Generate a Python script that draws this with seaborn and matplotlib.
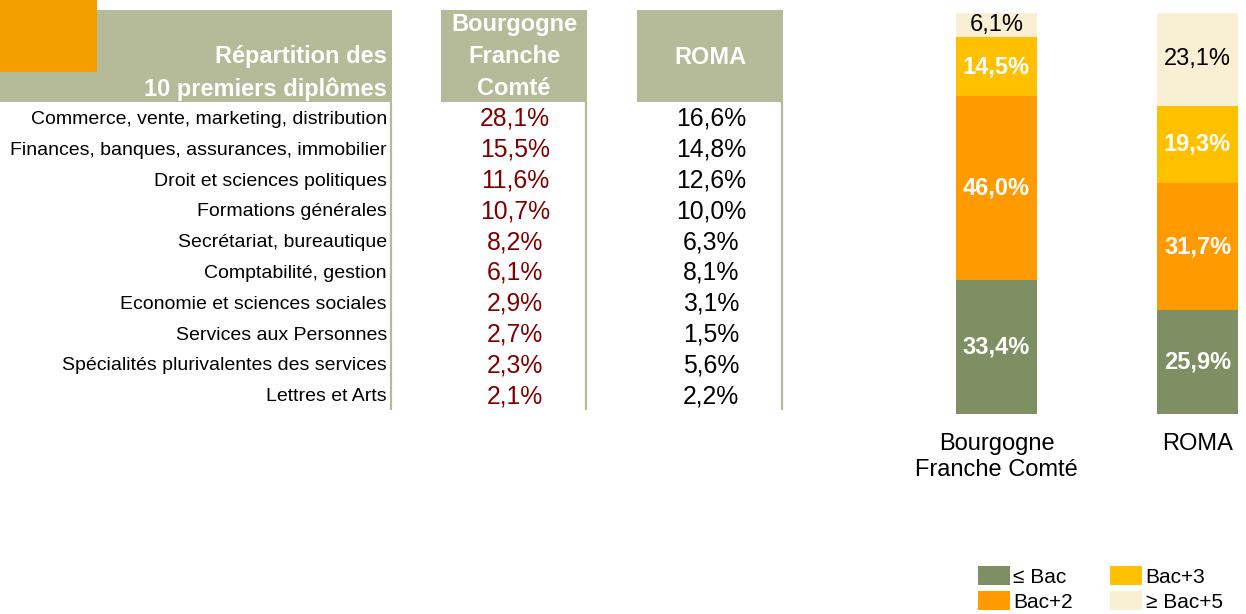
import numpy as np
import pandas as pd
import seaborn as sns
import matplotlib.pyplot as plt
from matplotlib.patches import Rectangle

# --- data -------------------------------------------------------------
diplomes = [
    "Commerce, vente, marketing, distribution",
    "Finances, banques, assurances, immobilier",
    "Droit et sciences politiques",
    "Formations générales",
    "Secrétariat, bureautique",
    "Comptabilité, gestion",
    "Economie et sciences sociales",
    "Services aux Personnes",
    "Spécialités plurivalentes des services",
    "Lettres et Arts",
]
bfc_pct = [28.1, 15.5, 11.6, 10.7, 8.2, 6.1, 2.9, 2.7, 2.3, 2.1]
roma_pct = [16.6, 14.8, 12.6, 10.0, 6.3, 8.1, 3.1, 1.5, 5.6, 2.2]

regions = ["Bourgogne\nFranche Comté", "ROMA"]
niveaux = ["≤ Bac", "Bac+2", "Bac+3", "≥ Bac+5"]
niveau_bfc = [33.4, 46.0, 14.5, 6.1]
niveau_roma = [25.9, 31.7, 19.3, 23.1]

# --- style ------------------------------------------------------------
couleurs = ["#7E8F63", "#FF9B00", "#FFC000", "#F9F0D3"]
HEAD = "#B5BA98"
ORANGE = "#F59E00"
ROUGE = "#800000"


def fr(v):
    return f"{v:.1f}%".replace(".", ",")


sns.set_theme(style="white")
plt.rcParams["font.family"] = ["Liberation Sans", "DejaVu Sans"]
plt.rcParams["text.color"] = "black"
plt.rcParams["xtick.color"] = "black"

W, H = 1246, 614
fig = plt.figure(figsize=(W / 100, H / 100), dpi=100)

# table drawn in pixel coordinates
tab = fig.add_axes([0, 0, 1, 1])
tab.set_xlim(0, W)
tab.set_ylim(H, 0)
tab.axis("off")


def txt(x, y, s, size, **kw):
    # y = visual centre of capitals
    tab.text(x, y + 0.358 * size * 100 / 72, s, fontsize=size, va="baseline", **kw)


tab.add_patch(Rectangle((0, 10), 392, 92, color=HEAD, lw=0))
tab.add_patch(Rectangle((0, 0), 97, 72, color=ORANGE, lw=0))
tab.add_patch(Rectangle((441, 10), 146, 92, color=HEAD, lw=0))
tab.add_patch(Rectangle((637, 10), 146, 92, color=HEAD, lw=0))
tab.vlines([390.5, 586, 782], 102, 410, color=HEAD, lw=1.6)

txt(387, 55, "Répartition des", 17, ha="right", color="white", fontweight="bold")
txt(387, 88, "10 premiers diplômes", 17, ha="right", color="white", fontweight="bold")
for y, s in zip([23, 55, 87], ["Bourgogne", "Franche", "Comté"]):
    txt(514, y, s, 17, ha="center", color="white", fontweight="bold")
txt(710, 56, "ROMA", 17, ha="center", color="white", fontweight="bold")

row_y = 117 + 30.8 * np.arange(len(diplomes))
for y, lab, a, b in zip(row_y, diplomes, bfc_pct, roma_pct):
    txt(387, y, lab, 14, ha="right", color="black")
    txt(515, y, fr(a), 17.8, ha="center", color=ROUGE)
    txt(711, y, fr(b), 17.8, ha="center", color="black")

# stacked bars
ax = fig.add_axes([946 / W, 200 / H, 300 / W, 401 / H])
df = pd.DataFrame({"region": regions})
for niv, a, b in zip(niveaux, niveau_bfc, niveau_roma):
    df[niv] = [a, b]

bottom = np.zeros(len(regions))
for k, niv in enumerate(niveaux):
    vals = df[niv].to_numpy()
    sns.barplot(data=df, x="region", y=niv, bottom=bottom.copy(), color=couleurs[k],
                saturation=1, width=0.403, errorbar=None, linewidth=0, label=niv, ax=ax)
    last = k == len(niveaux) - 1
    ax.bar_label(ax.containers[-1], labels=[fr(v) for v in vals], label_type="center",
                 color="black" if last else "white", fontsize=17,
                 fontweight="normal" if last else "bold")
    bottom += vals

ax.set_xlim(-0.2512, 1.2413)
ax.set_ylim(0, 100)
ax.set_yticks([])
ax.set_xlabel("")
ax.set_ylabel("")
ax.tick_params(axis="x", length=0, pad=14, labelsize=17, labelcolor="black")
sns.despine(ax=ax, left=True, bottom=True)

handles, labels = ax.get_legend_handles_labels()
ax.legend(handles, labels, ncol=2, loc="upper left", frameon=False,
          bbox_to_anchor=(978 / W, 1 - 566 / H), bbox_transform=fig.transFigure,
          fontsize=15, borderpad=0, borderaxespad=0, handlelength=1.54, handleheight=1.05,
          handletextpad=0.15, columnspacing=1.8, labelspacing=0.2)

fig.savefig("out.png", dpi=100)
